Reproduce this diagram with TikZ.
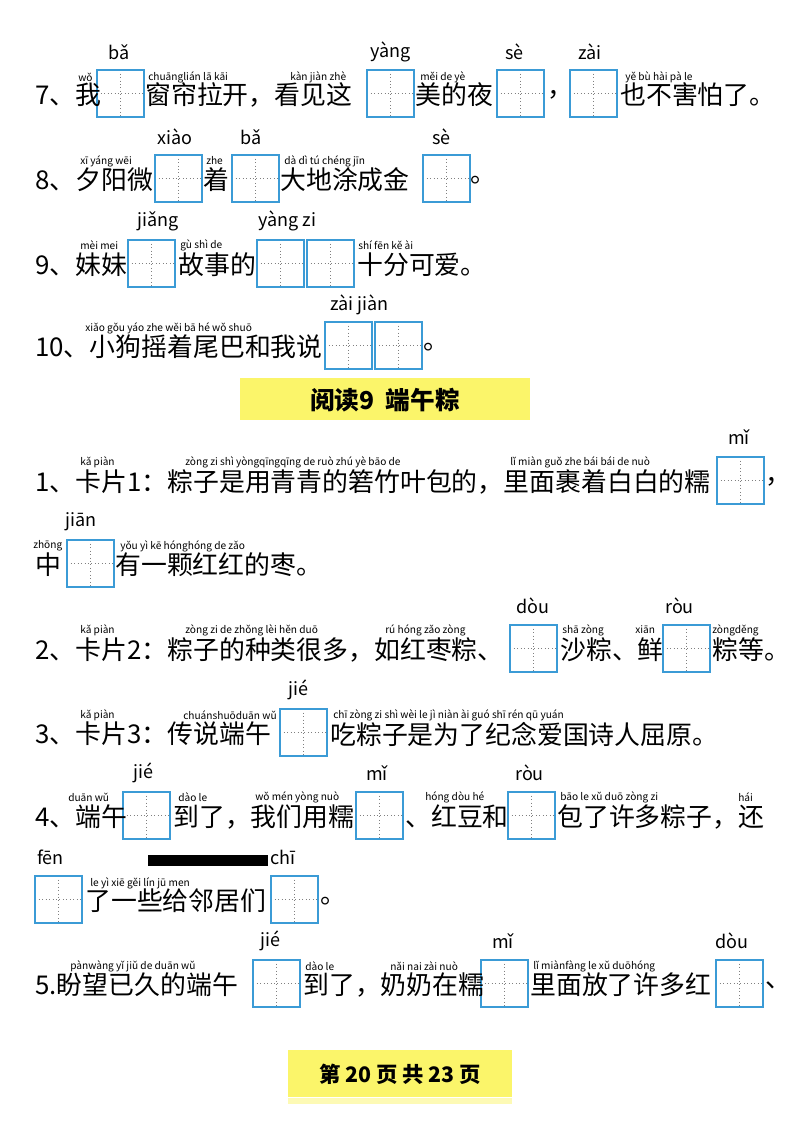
\documentclass[tikz,border=0pt]{standalone}
\usepackage{fontspec}
\setmainfont{Noto Sans CJK SC}
\newfontfamily\cjk{Noto Sans CJK SC}
\definecolor{boxblue}{HTML}{3B9BD6}
\definecolor{band}{HTML}{FBF56A}
\tikzset{
 cell/.style={draw=boxblue,line width=1.1pt,minimum size=35pt,inner sep=0pt,
  path picture={\draw[gray,dotted,line width=0.6pt] (path picture bounding box.north)--(path picture bounding box.south) (path picture bounding box.west)--(path picture bounding box.east);}},
 zh/.style={anchor=west,inner sep=0pt,font=\cjk\fontsize{19.4}{19}\selectfont},
 pyb/.style={anchor=west,inner sep=0pt,font=\cjk\fontsize{13.5}{14}\selectfont},
 pys/.style={anchor=west,inner sep=0pt,font=\cjk\fontsize{7.6}{8}\selectfont}
}
\newcommand\Cell[3]{\node[cell] (#1) at (#2+23.5,#3+23.5) {};}
\newcommand\Zh[4]{\node[zh] (#1) at (#2,#3) {#4};}
\newcommand\PyB[4]{\node[pyb] (#1) at (#2,#3) {#4};}
\newcommand\PyS[4]{\node[pys] (#1) at (#2,#3) {#4};}
\begin{document}
\begin{tikzpicture}[x=0.75pt,y=-0.75pt]
\useasboundingbox (0,0) rectangle (800,1130);
% line 7
\Cell{c7a}{97}{70}\Cell{c7b}{367}{70}\Cell{c7c}{497}{70}\Cell{c7d}{570}{70}
\Zh{z7a}{35}{95}{7、我}\Zh{z7b}{145}{95}{窗帘拉开，看见这}\Zh{z7c}{415}{95}{美的夜}\Zh{z7d}{547}{95}{，}\Zh{z7e}{620}{95}{也不害怕了。}
\PyB{b7a}{108}{52}{bǎ}\PyB{b7b}{370}{52}{yàng}\PyB{b7c}{505}{52}{sè}\PyB{b7d}{578}{52}{zài}
\PyS{s7a}{78}{77}{wǒ}\PyS{s7b}{148}{77}{chuānglián lā kāi}\PyS{s7c}{290}{77}{kàn jiàn zhè}\PyS{s7d}{420}{77}{měi de yè}\PyS{s7e}{625}{77}{yě bù hài pà le}
% line 8
\Cell{c8a}{155}{155}\Cell{c8b}{232}{155}\Cell{c8c}{423}{155}
\Zh{z8a}{35}{180}{8、夕阳微}\Zh{z8b}{203}{180}{着}\Zh{z8c}{280}{180}{大地涂成金}\Zh{z8d}{470}{180}{。}
\PyB{b8a}{157}{137}{xiào}\PyB{b8b}{240}{137}{bǎ}\PyB{b8c}{432}{137}{sè}
\PyS{s8a}{80}{161}{xī yáng wēi}\PyS{s8b}{206}{161}{zhe}\PyS{s8c}{284}{161}{dà dì tú chéng jīn}
% line 9
\Cell{c9a}{128}{240}\Cell{c9b}{257}{240}\Cell{c9c}{307}{240}
\Zh{z9a}{35}{265}{9、妹妹}\Zh{z9b}{178}{265}{故事的}\Zh{z9c}{357}{265}{十分可爱。}
\PyB{b9a}{137}{221}{jiǎng}\PyB{b9b}{258}{221}{yàng zi}
\PyS{s9a}{80}{245}{mèi mei}\PyS{s9b}{180}{245}{gù shì de}\PyS{s9c}{358}{245}{shí fēn kě ài}
% line 10
\Cell{c10a}{325}{322}\Cell{c10b}{375}{322}
\Zh{z10a}{35}{347}{10、小狗摇着尾巴和我说}\Zh{z10b}{423}{347}{。}
\PyB{b10a}{330}{305}{zài jiàn}
\PyS{s10a}{85}{328}{xiǎo gǒu yáo zhe wěi bā hé wǒ shuō}
% title
\fill[band] (240,378) rectangle (530,420);
\node[font=\cjk\bfseries\fontsize{18.5}{18}\selectfont] (title) at (385,400) {阅读9\ \ 端午粽};
% 1
\Cell{c1a}{717}{457}
\Zh{z1a}{35}{482}{1、卡片1：粽子是用青青的箬竹叶包的，里面裹着白白的糯}\Zh{z1b}{765}{482}{，}
\PyB{b1a}{728}{437}{mǐ}
\PyS{s1a}{80}{462}{kǎ piàn}\PyS{s1b}{185}{462}{zòng zi shì yòngqīngqīng de ruò zhú yè bāo de}\PyS{s1c}{510}{462}{lǐ miàn guǒ zhe bái bái de nuò}
\Cell{c1b}{67}{540}
\Zh{z1c}{35}{565}{中}\Zh{z1d}{115}{565}{有一颗红红的枣。}
\PyB{b1b}{65}{522}{jiān}
\PyS{s1d}{33}{546}{zhōng}\PyS{s1e}{120}{546}{yǒu yì kē hónghóng de zǎo}
% 2
\Cell{c2a}{510}{625}\Cell{c2b}{663}{625}
\Zh{z2a}{35}{650}{2、卡片2：粽子的种类很多，如红枣粽、}\Zh{z2b}{560}{650}{沙粽、鲜}\Zh{z2c}{712}{650}{粽等。}
\PyB{b2a}{516}{606}{dòu}\PyB{b2b}{665}{606}{ròu}
\PyS{s2a}{80}{630}{kǎ piàn}\PyS{s2b}{185}{630}{zòng zi de zhǒng lèi hěn duō}\PyS{s2c}{385}{630}{rú hóng zǎo zòng}\PyS{s2d}{562}{630}{shā zòng}\PyS{s2e}{635}{630}{xiān}\PyS{s2f}{712}{630}{zòngděng}
% 3
\Cell{c3a}{280}{709}
\Zh{z3a}{35}{734}{3、卡片3：传说端午}\Zh{z3b}{330}{734}{吃粽子是为了纪念爱国诗人屈原。}
\PyB{b3a}{288}{690}{jié}
\PyS{s3a}{80}{715}{kǎ piàn}\PyS{s3b}{183}{715}{chuánshuōduān wǔ}\PyS{s3c}{333}{715}{chī zòng zi shì wèi le jì niàn ài guó shī rén qū yuán}
% 4
\Cell{c4a}{123}{792}\Cell{c4b}{356}{792}\Cell{c4c}{508}{792}
\Zh{z4a}{35}{817}{4、端午}\Zh{z4b}{173}{817}{到了，我们用糯}\Zh{z4c}{405}{817}{、红豆和}\Zh{z4d}{557}{817}{包了许多粽子，还}
\PyB{b4a}{133}{773}{jié}\PyB{b4b}{366}{773}{mǐ}\PyB{b4c}{515}{773}{ròu}
\PyS{s4a}{68}{797}{duān wǔ}\PyS{s4b}{178}{797}{dào le}\PyS{s4c}{255}{797}{wǒ mén yòng nuò}\PyS{s4d}{425}{797}{hóng dòu hé}\PyS{s4e}{560}{797}{bāo le xǔ duō zòng zi}\PyS{s4f}{738}{797}{hái}
\Cell{c4d}{35}{876}\Cell{c4e}{271}{876}
\Zh{z4e}{85}{901}{了一些给邻居们}\Zh{z4f}{320}{901}{。}
\PyB{b4d}{37}{857}{fēn}\PyB{b4e}{270}{857}{chī}
\fill[black] (148,855) rectangle (268,866);
\PyS{s4g}{90}{883}{le yì xiē gěi lín jū men}
% 5
\Cell{c5a}{253}{960}\Cell{c5b}{481}{960}\Cell{c5c}{716}{960}
\Zh{z5a}{35}{985}{5.盼望已久的端午}\Zh{z5b}{303}{985}{到了，奶奶在糯}\Zh{z5c}{530}{985}{里面放了许多红}\Zh{z5d}{765}{985}{、}
\PyB{b5a}{260}{941}{jié}\PyB{b5b}{492}{941}{mǐ}\PyB{b5c}{715}{941}{dòu}
\PyS{s5a}{70}{966}{pànwàng yǐ jiǔ de duān wǔ}\PyS{s5b}{305}{966}{dào le}\PyS{s5c}{390}{966}{nǎi nai zài nuò}\PyS{s5d}{533}{966}{lǐ miànfàng le xǔ duōhóng}
% footer
\fill[band!50] (288,1098) rectangle (512,1104);
\fill[band] (288,1050) rectangle (512,1097);
\node[font=\cjk\bfseries\fontsize{16}{16}\selectfont] (foot) at (400,1074) {第 20 页 共 23 页};
\end{tikzpicture}
\end{document}
